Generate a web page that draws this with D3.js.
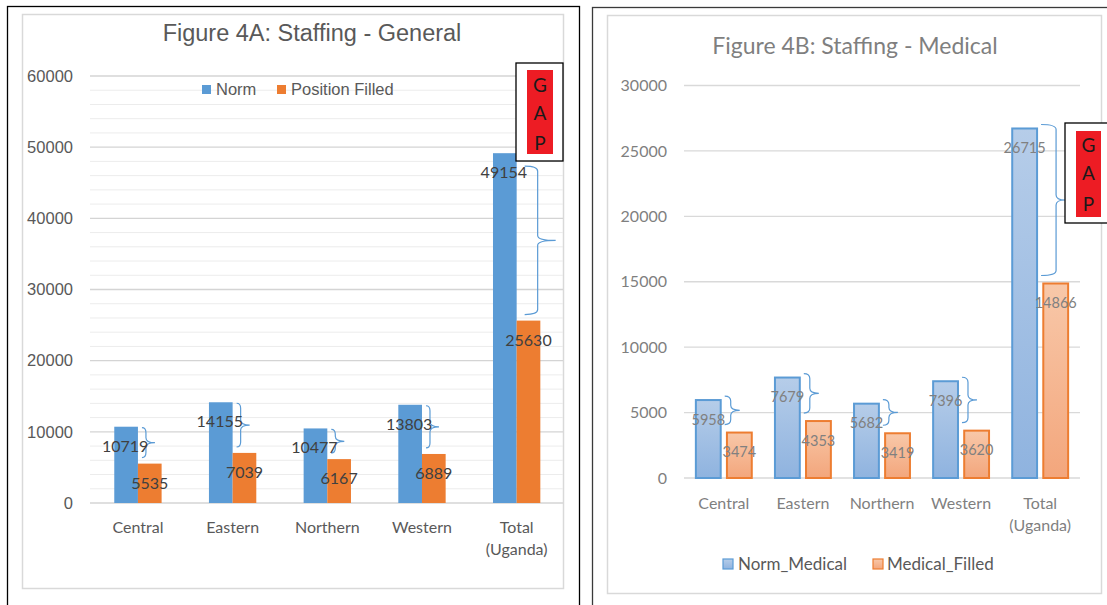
<!DOCTYPE html>
<html>
<head>
<meta charset="utf-8">
<script src="https://cdn.jsdelivr.net/npm/d3@7"></script>
<style>
  body { margin: 0; background: #fff; }
  svg { display: block; }
</style>
</head>
<body>
<svg id="chart" width="1107" height="605"></svg>
<script>
// categories shared by both figures
const categories = ["Central", "Eastern", "Northern", "Western", "Total\n(Uganda)"];

// Figure 4A: Staffing - General
const normGeneral = [10719, 14155, 10477, 13803, 49154];
const filledGeneral = [5535, 7039, 6167, 6889, 25630];
const ticksGeneral = [0, 10000, 20000, 30000, 40000, 50000, 60000];

// Figure 4B: Staffing - Medical
const normMedical = [5958, 7679, 5682, 7396, 26715];
const filledMedical = [3474, 4353, 3419, 3620, 14866];
const ticksMedical = [0, 5000, 10000, 15000, 20000, 25000, 30000];

const svg = d3.select("#chart");
svg.append("rect").attr("width", 1107).attr("height", 605).attr("fill", "#fff");

// gradients for the medical bars
const defs = svg.append("defs");
function grad(id, top, bottom)
{
  const g = defs.append("linearGradient").attr("id", id)
    .attr("x1", 0).attr("y1", 0).attr("x2", 0).attr("y2", 1);
  g.append("stop").attr("offset", "0%").attr("stop-color", top);
  g.append("stop").attr("offset", "100%").attr("stop-color", bottom);
}
grad("gBlue", "#b6cde9", "#8fb3df");
grad("gOrange", "#f8c8a9", "#f3a67c");

// curly brace between the two bars of a group
function brace(g, x0, y1, y2, arm, tip)
{
  const ym = (y1 + y2) / 2;
  const x1 = x0 + arm;
  const r = Math.min(5, (y2 - y1) / 4);
  const p = d3.path();
  p.moveTo(x0, y1);
  p.quadraticCurveTo(x1, y1, x1, y1 + r);
  p.lineTo(x1, ym - r);
  p.quadraticCurveTo(x1, ym, x1 + tip, ym);
  p.moveTo(x1 + tip, ym);
  p.quadraticCurveTo(x1, ym, x1, ym + r);
  p.lineTo(x1, y2 - r);
  p.quadraticCurveTo(x1, y2, x0, y2);
  g.append("path").attr("d", p.toString())
    .attr("fill", "none").attr("stroke", "#5b9bd5").attr("stroke-width", 1.2);
}

function gapBox(x, y, w, h, rx, ry, rw, rh, letterYs)
{
  svg.append("rect").attr("x", x).attr("y", y).attr("width", w).attr("height", h)
    .attr("fill", "#fff").attr("stroke", "#000").attr("stroke-width", 1.3);
  svg.append("rect").attr("x", rx).attr("y", ry).attr("width", rw).attr("height", rh)
    .attr("fill", "#ed1c24");
  ["G", "A", "P"].forEach((c, i) =>
  {
    svg.append("text").attr("x", rx + rw / 2).attr("y", letterYs[i])
      .attr("text-anchor", "middle").attr("dominant-baseline", "middle")
      .attr("font-family", "Lato, sans-serif").attr("font-size", "19px")
      .attr("fill", "#1a1a1a").text(c);
  });
}

function splitLabels(sel, y0, lineH)
{
  sel.selectAll(".tick text").each(function (d)
  {
    const t = d3.select(this);
    const lines = d.split("\n");
    t.text(null).attr("y", y0).attr("dy", null);
    lines.forEach((l, i) =>
    {
      t.append("tspan").attr("x", 0).attr("dy", i === 0 ? 0 : lineH).text(l);
    });
  });
}

// ---------- Left panel: Figure 4A ----------
svg.append("rect").attr("x", 7.5).attr("y", 6.5).attr("width", 572).attr("height", 610)
  .attr("fill", "none").attr("stroke", "#000").attr("stroke-width", 1.3);
svg.append("rect").attr("x", 22.5).attr("y", 14.5).attr("width", 541).attr("height", 574)
  .attr("fill", "none").attr("stroke", "#d9d9d9").attr("stroke-width", 1.5);

svg.append("text").attr("x", 312).attr("y", 41).attr("text-anchor", "middle")
  .attr("font-family", "'Liberation Sans', Arial, sans-serif").attr("font-size", "23.5px")
  .attr("fill", "#595959").text("Figure 4A: Staffing - General");

const xA = d3.scaleBand().domain(categories).range([90.6, 564]).paddingInner(0.5).paddingOuter(0.25);
const xSubA = d3.scaleBand().domain(["norm", "filled"]).range([0, xA.bandwidth()]);
const yA = d3.scaleLinear().domain([0, 60000]).range([503, 76]);

const gA = svg.append("g");
// minor + major gridlines
gA.selectAll(".minor").data(d3.range(2000, 60000, 2000).filter(v => v % 10000 !== 0)).enter()
  .append("line").attr("x1", 90).attr("x2", 563)
  .attr("y1", d => yA(d)).attr("y2", d => yA(d))
  .attr("stroke", "#ececec").attr("stroke-width", 1);
gA.selectAll(".major").data(ticksGeneral).enter()
  .append("line").attr("x1", 90).attr("x2", 563)
  .attr("y1", d => yA(d)).attr("y2", d => yA(d))
  .attr("stroke", "#d4d4d4").attr("stroke-width", 1.3);

const yAxisA = gA.append("g").attr("transform", "translate(90,0)")
  .call(d3.axisLeft(yA).tickValues(ticksGeneral).tickSize(0).tickPadding(17).tickFormat(d3.format("d")));
yAxisA.select(".domain").remove();
yAxisA.selectAll("text").attr("font-family", "'Liberation Sans', Arial, sans-serif")
  .attr("font-size", "16.5px").attr("fill", "#595959");

const xAxisA = gA.append("g").attr("transform", "translate(0,503)")
  .call(d3.axisBottom(xA).tickSize(0));
xAxisA.select(".domain").remove();
xAxisA.selectAll("text").attr("font-family", "Lato, sans-serif").attr("font-size", "16px").attr("fill", "#595959");
splitLabels(xAxisA, 30, 22);

const groupsA = categories.map((c, i) => ({ cat: c, norm: normGeneral[i], filled: filledGeneral[i] }));

gA.selectAll(".barN").data(groupsA).enter().append("rect")
  .attr("x", d => xA(d.cat) + xSubA("norm")).attr("y", d => yA(d.norm))
  .attr("width", xSubA.bandwidth()).attr("height", d => yA(0) - yA(d.norm))
  .attr("fill", "#5b9bd5");
gA.selectAll(".barF").data(groupsA).enter().append("rect")
  .attr("x", d => xA(d.cat) + xSubA("filled")).attr("y", d => yA(d.filled))
  .attr("width", xSubA.bandwidth()).attr("height", d => yA(0) - yA(d.filled))
  .attr("fill", "#ed7d31");

groupsA.forEach(d =>
{
  const yt = yA(d.norm), yb = yA(d.filled) - 6;
  const h = yb - yt;
  const arm = Math.max(4, Math.min(13, h * 0.09));
  const top = h > 100 ? yt + 13 : yt + 1;
  brace(gA, xA(d.cat) + xSubA("filled") + (h > 100 ? 8 : 4), top, yb, arm, arm + 5);
});

["norm", "filled"].forEach(k =>
{
  gA.selectAll(".lbl-" + k).data(groupsA).enter().append("text")
    .attr("x", d => xA(d.cat) + xSubA(k) + xSubA.bandwidth() / 2 - (k === "norm" ? 1 : 0))
    .attr("y", d => yA(d[k]) + 21)
    .attr("text-anchor", "middle").attr("dominant-baseline", "middle")
    .attr("font-family", "Lato, sans-serif").attr("font-size", "16px").attr("fill", "#404040")
    .text(d => d[k]);
});

// legend A
const legA = svg.append("g").attr("font-family", "'Liberation Sans', Arial, sans-serif")
  .attr("font-size", "16.5px").attr("fill", "#595959");
legA.append("rect").attr("x", 202).attr("y", 85).attr("width", 9).attr("height", 9).attr("fill", "#5b9bd5");
legA.append("text").attr("x", 216).attr("y", 95).text("Norm");
legA.append("rect").attr("x", 277).attr("y", 85).attr("width", 9).attr("height", 9).attr("fill", "#ed7d31");
legA.append("text").attr("x", 291).attr("y", 95).text("Position Filled");

gapBox(516, 63, 47, 98, 527, 70, 26, 84, [87, 115, 145]);

// ---------- Right panel: Figure 4B ----------
svg.append("rect").attr("x", 592.5).attr("y", 7.5).attr("width", 530).attr("height", 610)
  .attr("fill", "none").attr("stroke", "#3a3a3a").attr("stroke-width", 1.3);
svg.append("rect").attr("x", 607.5).attr("y", 15.5).attr("width", 494).attr("height", 578)
  .attr("fill", "none").attr("stroke", "#d9d9d9").attr("stroke-width", 1.5);

svg.append("text").attr("x", 855).attr("y", 54).attr("text-anchor", "middle")
  .attr("font-family", "Lato, sans-serif").attr("font-size", "23px")
  .attr("fill", "#7f7f7f").text("Figure 4B: Staffing - Medical");

const xB = d3.scaleBand().domain(categories).range([684, 1080]).paddingInner(0.293).paddingOuter(0.15);
const xSubB = d3.scaleBand().domain(["norm", "filled"]).range([0, xB.bandwidth()]).paddingInner(0.2);
const yB = d3.scaleLinear().domain([0, 30000]).range([478, 85.5]);

const gB = svg.append("g");
gB.selectAll(".major").data(ticksMedical).enter()
  .append("line").attr("x1", 684).attr("x2", 1080)
  .attr("y1", d => yB(d)).attr("y2", d => yB(d))
  .attr("stroke", "#d9d9d9").attr("stroke-width", 1.3);

const yAxisB = gB.append("g").attr("transform", "translate(684,0)")
  .call(d3.axisLeft(yB).tickValues(ticksMedical).tickSize(0).tickPadding(17).tickFormat(d3.format("d")));
yAxisB.select(".domain").remove();
yAxisB.selectAll("text").attr("font-family", "Lato, sans-serif")
  .attr("font-size", "16px").attr("fill", "#7f7f7f");

const xAxisB = gB.append("g").attr("transform", "translate(0,478)")
  .call(d3.axisBottom(xB).tickSize(0));
xAxisB.select(".domain").remove();
xAxisB.selectAll("text").attr("font-family", "Lato, sans-serif").attr("font-size", "16px").attr("fill", "#7f7f7f");
splitLabels(xAxisB, 31, 22);

const groupsB = categories.map((c, i) => ({ cat: c, norm: normMedical[i], filled: filledMedical[i] }));

gB.selectAll(".barN").data(groupsB).enter().append("rect")
  .attr("x", d => xB(d.cat) + xSubB("norm")).attr("y", d => yB(d.norm))
  .attr("width", xSubB.bandwidth()).attr("height", d => yB(0) - yB(d.norm))
  .attr("fill", "url(#gBlue)").attr("stroke", "#5b9bd5").attr("stroke-width", 2);
gB.selectAll(".barF").data(groupsB).enter().append("rect")
  .attr("x", d => xB(d.cat) + xSubB("filled")).attr("y", d => yB(d.filled))
  .attr("width", xSubB.bandwidth()).attr("height", d => yB(0) - yB(d.filled))
  .attr("fill", "url(#gOrange)").attr("stroke", "#ed7d31").attr("stroke-width", 2);

groupsB.forEach(d =>
{
  const yt = yB(d.norm), yb = yB(d.filled) - 2;
  const h = yb - yt;
  const arm = Math.max(6, Math.min(15, h * 0.1));
  brace(gB, xB(d.cat) + xSubB.bandwidth() + 4, yt - 4, yb - 6, arm, 9);
});

["norm", "filled"].forEach(k =>
{
  gB.selectAll(".lbl-" + k).data(groupsB).enter().append("text")
    .attr("x", d => xB(d.cat) + xSubB(k) + xSubB.bandwidth() / 2)
    .attr("y", d => yB(d[k]) + 21)
    .attr("text-anchor", "middle").attr("dominant-baseline", "middle")
    .attr("font-family", "Lato, sans-serif").attr("font-size", "14.5px").attr("fill", "#808080")
    .text(d => d[k]);
});

// legend B
const legB = svg.append("g").attr("font-family", "Lato, sans-serif")
  .attr("font-size", "17px").attr("fill", "#595959");
legB.append("rect").attr("x", 723).attr("y", 559).attr("width", 10).attr("height", 10)
  .attr("fill", "url(#gBlue)").attr("stroke", "#5b9bd5").attr("stroke-width", 1.2);
legB.append("text").attr("x", 738).attr("y", 570).text("Norm_Medical");
legB.append("rect").attr("x", 873).attr("y", 559).attr("width", 10).attr("height", 10)
  .attr("fill", "url(#gOrange)").attr("stroke", "#ed7d31").attr("stroke-width", 1.2);
legB.append("text").attr("x", 887).attr("y", 570).text("Medical_Filled");

gapBox(1065, 123, 50, 100, 1076, 131, 25, 86, [147, 175, 206]);
</script>
</body>
</html>
